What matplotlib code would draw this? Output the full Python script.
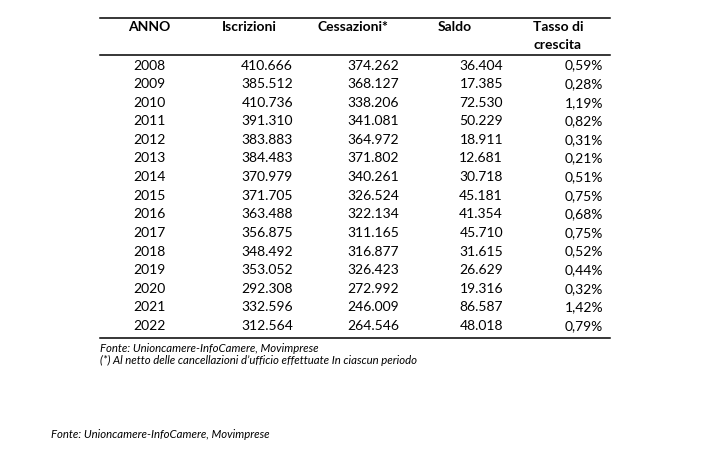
import matplotlib.pyplot as plt

anni = [2008, 2009, 2010, 2011, 2012, 2013, 2014, 2015,
        2016, 2017, 2018, 2019, 2020, 2021, 2022]
iscrizioni = [410666, 385512, 410736, 391310, 383883, 384483, 370979, 371705,
              363488, 356875, 348492, 353052, 292308, 332596, 312564]
cessazioni = [374262, 368127, 338206, 341081, 364972, 371802, 340261, 326524,
              322134, 311165, 316877, 326423, 272992, 246009, 264546]
saldo = [36404, 17385, 72530, 50229, 18911, 12681, 30718, 45181,
         41354, 45710, 31615, 26629, 19316, 86587, 48018]
tasso = [0.59, 0.28, 1.19, 0.82, 0.31, 0.21, 0.51, 0.75,
         0.68, 0.75, 0.52, 0.44, 0.32, 1.42, 0.79]

intestazioni = ["ANNO", "Iscrizioni", "Cessazioni*", "Saldo", "Tasso di\ncrescita"]
fonte = "Fonte: Unioncamere-InfoCamere, Movimprese"
nota = "(*) Al netto delle cancellazioni d\u2019ufficio effettuate In ciascun periodo"


def migliaia(n):
    """Italian thousands separator"""
    return f"{n:,}".replace(",", ".")


def percento(v):
    return f"{v:.2f}".replace(".", ",") + "%"


plt.rcParams['font.family'] = ['Lato', 'DejaVu Sans']

fig = plt.figure(figsize=(7.12, 4.54), dpi=100, facecolor='white')
ax = fig.add_axes([0, 0, 1, 1])
ax.set_xlim(0, 712)
ax.set_ylim(454, 0)
ax.axis('off')

fs = 10
# rules
ax.plot([100, 610], [18, 18], color='black', lw=1.1)
ax.plot([100, 610], [55, 55], color='black', lw=1.1)
ax.plot([100, 610], [338, 338], color='black', lw=1.1)

# header
head_x = [149, 222, 318, 438, 533]
for i, (h, x) in enumerate(zip(intestazioni, head_x)):
    ax.text(x, 21, h, ha='center' if i == 0 else 'left', va='top',
            fontsize=fs, fontweight='bold', linespacing=1.6)

# rows
y0, dy = 65.5, 18.6
for i, anno in enumerate(anni):
    y = y0 + i * dy
    ax.text(149, y, str(anno), ha='center', va='center', fontsize=fs)
    ax.text(293, y, migliaia(iscrizioni[i]), ha='right', va='center', fontsize=fs)
    ax.text(399, y, migliaia(cessazioni[i]), ha='right', va='center', fontsize=fs)
    ax.text(503, y, migliaia(saldo[i]), ha='right', va='center', fontsize=fs)
    ax.text(603, y, percento(tasso[i]), ha='right', va='center', fontsize=fs)

ax.text(100, 348, fonte, ha='left', va='center', fontsize=8.2, style='italic')
ax.text(100, 360, nota, ha='left', va='center', fontsize=8.2, style='italic')
ax.text(51, 434, fonte, ha='left', va='center', fontsize=8.2, style='italic')

fig.savefig('out.png', dpi=100, facecolor='white')
